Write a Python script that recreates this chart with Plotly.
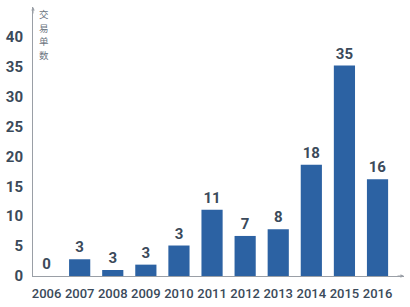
import plotly.graph_objects as go

years = ["2006", "2007", "2008", "2009", "2010", "2011", "2012", "2013", "2014", "2015", "2016"]
bar_heights = [0, 2.8, 1.0, 1.9, 5.1, 11.1, 6.7, 7.8, 18.6, 35.2, 16.2]
bar_labels = ["0", "3", "3", "3", "3", "11", "7", "8", "18", "35", "16"]
y_ticks = [0, 5, 10, 15, 20, 25, 30, 35, 40]
y_title = "交易单数"

bar_color = "#2c62a3"
text_color = "#3b4a5a"
axis_color = "#9a9fa6"
font_family = "Roboto"

xpos = list(range(len(years)))

fig = go.Figure()
fig.add_trace(go.Bar(
    x=xpos, y=bar_heights,
    marker=dict(color=bar_color, line=dict(width=0)),
    width=0.64,
    text=bar_labels, textposition="outside",
    textfont=dict(family=font_family, size=15, color=text_color, weight="bold"),
    cliponaxis=False,
))

fig.update_layout(
    width=410, height=307,
    margin=dict(l=31, r=6, t=7, b=28),
    plot_bgcolor="white", paper_bgcolor="white",
    showlegend=False,
)
fig.update_xaxes(
    range=[-0.41, 10.8],
    tickvals=xpos, ticktext=years,
    tickfont=dict(family=font_family, size=13, color=text_color, weight=500),
    showline=True, linecolor=axis_color, linewidth=1,
    showgrid=False, zeroline=False, ticks="", ticklabelstandoff=5,
)
fig.update_yaxes(
    range=[0, 45],
    tickvals=y_ticks,
    tickfont=dict(family=font_family, size=15, color=text_color, weight="bold"),
    showline=True, linecolor=axis_color, linewidth=1,
    showgrid=False, zeroline=False, ticks="", ticklabelstandoff=6,
)
# axis arrows
fig.add_annotation(x=0, y=1, xref="paper", yref="paper", ax=0, ay=8,
                   text="", showarrow=True, arrowhead=2, arrowsize=0.7,
                   arrowwidth=1, arrowcolor=axis_color)
fig.add_annotation(x=1, y=0, xref="paper", yref="paper", ax=-8, ay=0,
                   text="", showarrow=True, arrowhead=2, arrowsize=0.7,
                   arrowwidth=1, arrowcolor=axis_color)
# vertical stacked axis title, one character per annotation
for i, ch in enumerate(y_title):
    fig.add_annotation(x=0, y=1, xref="paper", yref="paper",
                       xanchor="center", yanchor="middle",
                       xshift=11, yshift=-7 - 13.5 * i, borderpad=0,
                       text=ch, showarrow=False,
                       font=dict(family="Noto Sans CJK SC", size=9.5, color="#6b7480"))

fig.write_html("out.html")
